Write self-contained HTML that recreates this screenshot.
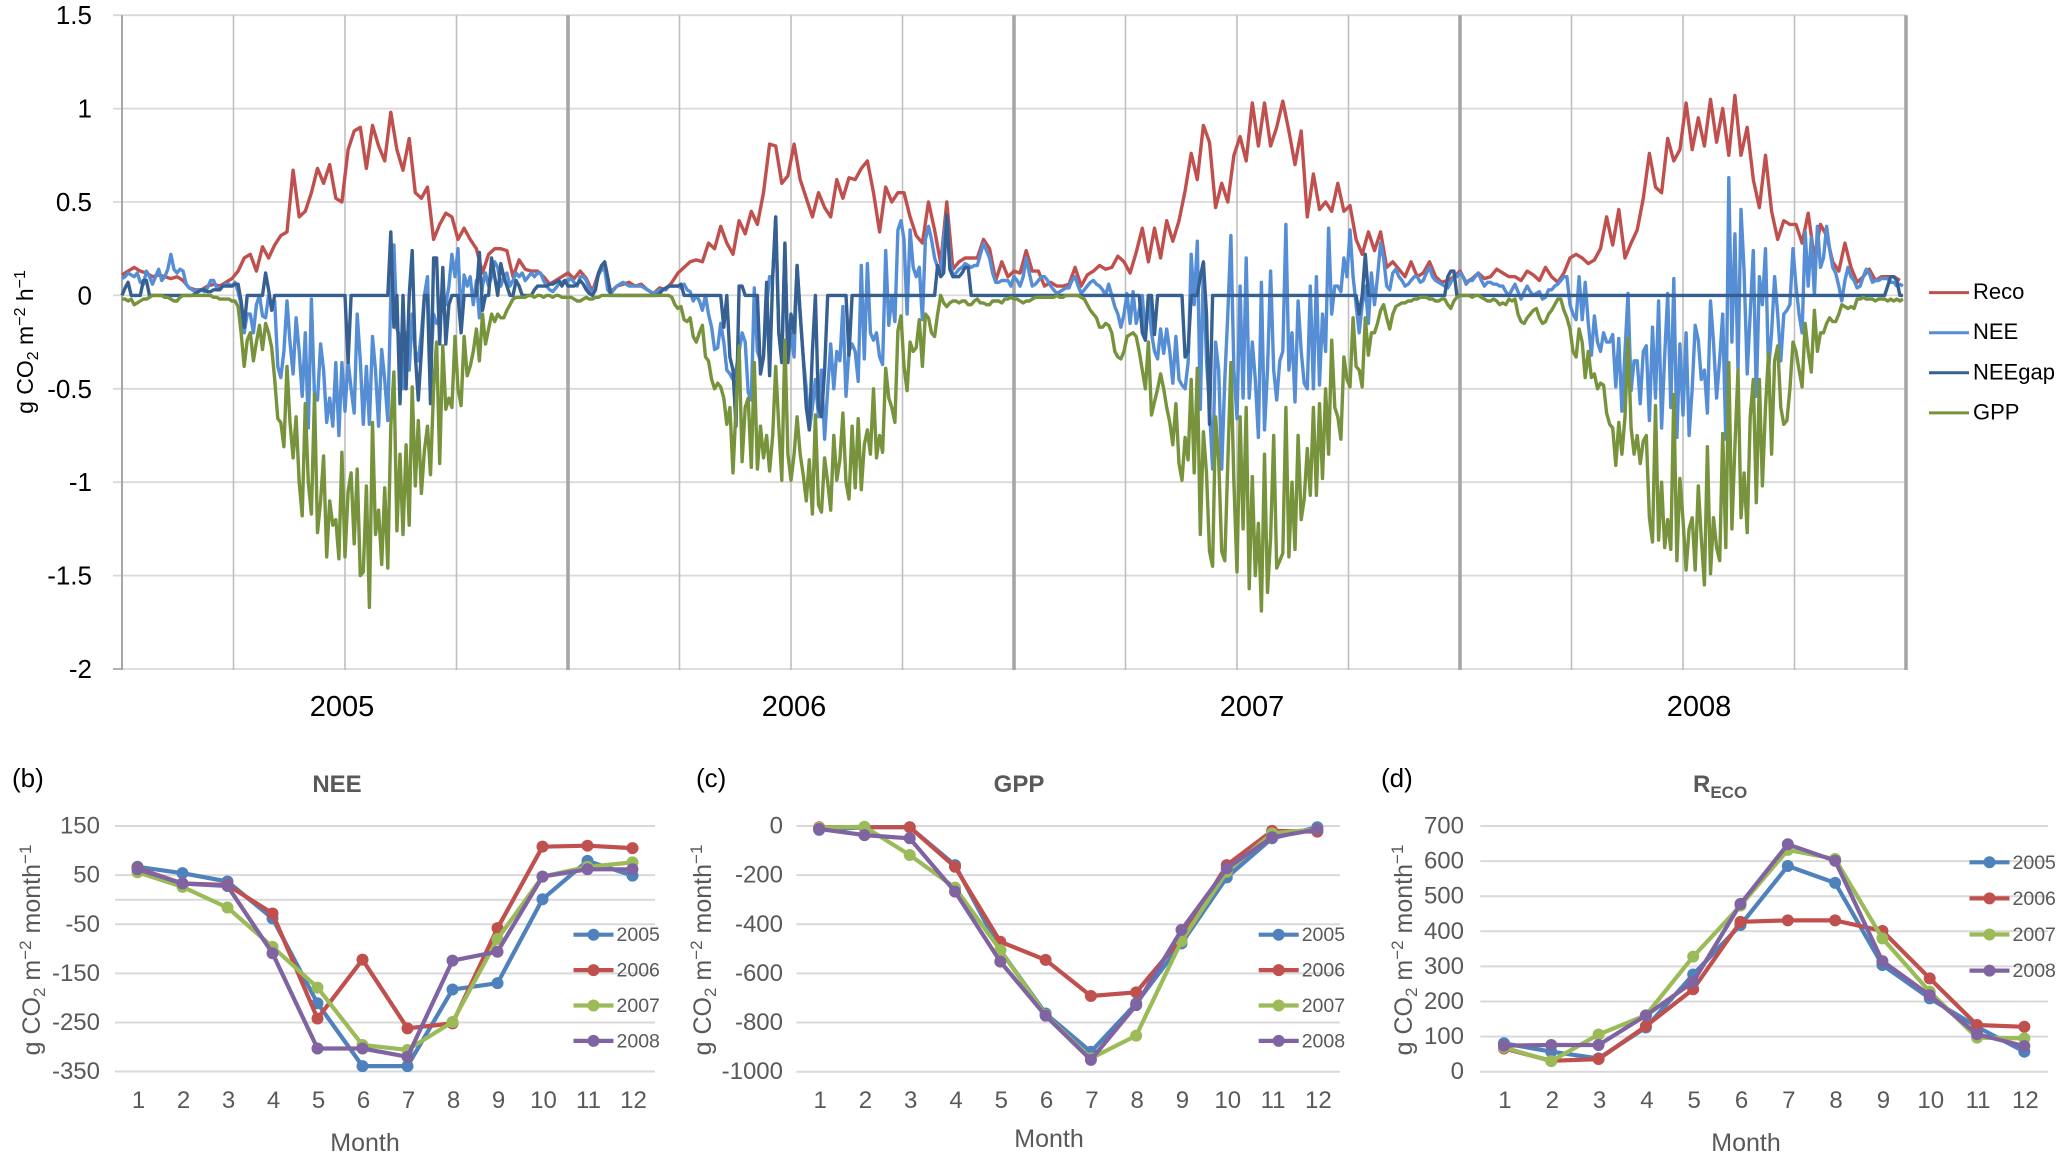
<!DOCTYPE html>
<html lang="en">
<head>
<meta charset="utf-8">
<title>Daily and monthly CO2 fluxes 2005-2008</title>
<style>
html,body{margin:0;padding:0;background:#fff;}
svg{display:block;font-family:"Liberation Sans",sans-serif;}
</style>
</head>
<body>
<svg id="chart" xmlns="http://www.w3.org/2000/svg" width="2066" height="1168" viewBox="0 0 2066 1168">
  <rect width="2066" height="1168" fill="#fff"/>
  <g id="main"></g>
  <g id="panelB"></g>
  <g id="panelC"></g>
  <g id="panelD"></g>

  <text transform="translate(33,342) rotate(-90)" text-anchor="middle" font-size="23" fill="#000">g CO<tspan font-size="16" dy="5">2</tspan><tspan dy="-5"> m</tspan><tspan font-size="16" dy="-8">−2</tspan><tspan dy="8"> h</tspan><tspan font-size="16" dy="-8">−1</tspan></text>
  <text x="342" y="716" text-anchor="middle" font-size="29" fill="#000">2005</text>
  <text x="794" y="716" text-anchor="middle" font-size="29" fill="#000">2006</text>
  <text x="1252" y="716" text-anchor="middle" font-size="29" fill="#000">2007</text>
  <text x="1699" y="716" text-anchor="middle" font-size="29" fill="#000">2008</text>

  <text x="12" y="787" font-size="26" fill="#000">(b)</text>
  <text x="696" y="787" font-size="26" fill="#000">(c)</text>
  <text x="1381" y="787" font-size="26" fill="#000">(d)</text>

  <text x="337" y="792" text-anchor="middle" font-size="24" font-weight="bold" fill="#595959">NEE</text>
  <text x="1019" y="792" text-anchor="middle" font-size="24" font-weight="bold" fill="#595959">GPP</text>
  <text x="1693" y="792" font-size="24" font-weight="bold" fill="#595959">R<tspan font-size="17" dy="6">ECO</tspan></text>

  <text x="365" y="1151" text-anchor="middle" font-size="25" fill="#595959">Month</text>
  <text x="1049" y="1147" text-anchor="middle" font-size="25" fill="#595959">Month</text>
  <text x="1746" y="1151" text-anchor="middle" font-size="25" fill="#595959">Month</text>

  <text transform="translate(40,950) rotate(-90)" text-anchor="middle" font-size="25" fill="#595959">g CO<tspan font-size="17" dy="5">2</tspan><tspan dy="-5"> m</tspan><tspan font-size="17" dy="-9">−2</tspan><tspan dy="9"> month</tspan><tspan font-size="17" dy="-9">−1</tspan></text>
  <text transform="translate(711,950) rotate(-90)" text-anchor="middle" font-size="25" fill="#595959">g CO<tspan font-size="17" dy="5">2</tspan><tspan dy="-5"> m</tspan><tspan font-size="17" dy="-9">−2</tspan><tspan dy="9"> month</tspan><tspan font-size="17" dy="-9">−1</tspan></text>
  <text transform="translate(1412,950) rotate(-90)" text-anchor="middle" font-size="25" fill="#595959">g CO<tspan font-size="17" dy="5">2</tspan><tspan dy="-5"> m</tspan><tspan font-size="17" dy="-9">−2</tspan><tspan dy="9"> month</tspan><tspan font-size="17" dy="-9">−1</tspan></text>
</svg>

<script>
// ---------- Daily chart data, g CO2 m-2 h-1 ----------
// Reco: one reading every five days.
const reco2005 = [
.11,.13,.15,.13,.12,.10,.11,.10,.09,.10,
.08,.04,.03,.03,.05,.06,.05,.07,.09,.13,
.20,.22,.13,.26,.20,.27,.32,.34,.67,.42,
.45,.55,.68,.60,.70,.52,.50,.78,.88,.90,
.68,.91,.80,.72,.98,.78,.67,.84,.55,.52,
.58,.30,.38,.44,.42,.30,.36,.30,.25,.12,
.22,.25,.25,.24,.10,.19,.14,.13,.13,.10,
.06,.08,.10];
const reco2006 = [
.12,.09,.13,.09,.02,.12,.15,.02,.05,.06,
.07,.05,.06,.03,.01,.04,.03,.07,.12,.15,
.18,.19,.18,.28,.25,.37,.28,.22,.40,.33,
.45,.38,.55,.81,.80,.60,.64,.81,.62,.52,
.42,.55,.47,.42,.62,.52,.63,.62,.68,.72,
.55,.34,.58,.50,.55,.55,.42,.32,.28,.50,
.35,.17,.50,.14,.18,.20,.20,.20,.30,.25,
.08,.18,.10];
const reco2007 = [
.13,.12,.24,.13,.13,.05,.07,.05,.05,.06,
.15,.05,.11,.13,.16,.14,.15,.21,.18,.12,
.23,.36,.18,.36,.20,.40,.29,.40,.56,.76,
.62,.91,.82,.47,.60,.50,.75,.85,.72,1.03,
.80,1.03,.80,.90,1.04,.88,.70,.88,.42,.65,
.46,.50,.45,.60,.45,.48,.30,.22,.34,.24,
.34,.15,.18,.14,.10,.18,.10,.12,.18,.10,
.07,.08,.10];
const reco2008 = [
.13,.07,.09,.12,.09,.10,.14,.12,.10,.10,
.08,.13,.11,.08,.15,.10,.07,.12,.20,.22,
.20,.17,.19,.25,.42,.27,.46,.20,.28,.35,
.52,.76,.58,.55,.84,.72,.78,1.03,.78,.95,
.80,1.05,.82,1.00,.75,1.07,.75,.90,.62,.47,
.75,.45,.30,.40,.38,.38,.28,.44,.20,.38,
.32,.18,.13,.28,.15,.07,.10,.14,.08,.10,
.10,.10,.08];

// NEE, NEEgap, GPP: one reading every 2.5 days (146 per year).
const nee2005 = [
.09,.1,.12,.11,.10,.12,.07,.06,.13,.1,
.06,.1,.14,.08,.10,.14,.22,.14,.12,.14,
.13,.06,.04,.03,.02,.03,.03,.02,.04,.08,
.08,.04,.04,.05,
.06,.06,.05,.07,.02,-.05,-.2,-.1,-.1,-.2,
-.05,0,-.11,-.12,0,-.05,-.03,-.38,-.44,-.3,
-.03,-.25,-.42,-.12,-.3,-.54,-.2,-.71,-.02,-.54,
-.56,-.26,-.4,-.68,-.55,-.7,-.36,-.75,-.36,-.62,
-.35,-.5,-.63,-.1,-.35,-.69,-.38,-.69,-.22,-.4,
-.7,-.29,-.45,-.67,0,.27,-.18,-.22,-.5,-.2,
-.4,-.1,-.3,-.35,-.2,0,.1,-.4,-.1,-.15,
-.13,-.05,-.05,.05,.22,.1,.25,-.15,.11,.05,
.1,-.05,.08,-.12,.05,
.12,.05,.1,.18,.15,.05,.1,.12,.05,.08,
.12,.1,.12,.08,.1,.12,.1,.12,.12,.08,
.05,.03,.02,.04,.06,.07,.08];
const nee2006 = [
.08,.09,.07,.05,.1,.1,.08,.03,.01,.05,
.11,.14,.14,.03,.01,.03,.05,.06,.07,.06,
.05,.05,.05,.05,.05,.04,.03,.02,.01,.02,
.03,.03,.03,
.05,.05,.05,.05,.04,.06,.03,.02,-.03,0,
-.03,-.08,0,-.1,-.17,-.29,-.28,-.15,-.25,-.4,
-.42,-.45,-.4,-.3,-.2,-.25,-.52,-.56,.04,-.3,
-.35,-.33,-.05,.1,.1,.42,-.2,-.35,.27,-.35,
-.2,-.33,.16,-.1,-.33,-.5,-.72,-.6,-.45,-.65,
-.4,-.77,-.5,-.26,-.5,-.3,-.35,-.06,-.54,-.3,
-.26,-.3,-.46,.16,-.34,.17,-.2,-.24,-.2,-.33,
-.37,.24,-.16,0,-.14,.35,.4,.3,-.1,.35,
.15,.1,.15,-.13,.3,
.37,.3,.2,.15,.13,.3,.43,.2,.1,.12,
.14,.15,.17,.16,.15,.16,.16,.22,.28,.24,
.2,.12,.07,.07,.08,.08,.08,.05];
const nee2007 = [
.1,.08,.05,.1,.2,.12,.05,.06,.08,.1,
.1,.08,.05,.03,.01,.02,.03,.04,.04,.08,
.1,.05,.01,.03,.05,.07,.08,.06,.05,.03,
0,.06,0,
-.06,-.1,-.17,-.1,.01,-.15,.02,-.15,-.08,0,
-.22,0,-.2,-.3,-.34,-.18,-.31,-.18,-.3,-.47,
-.22,-.45,-.48,-.5,-.36,.22,-.05,.29,-.61,.17,
-.35,-.6,-.93,-.25,-.4,-.93,-.45,-.1,.32,-.4,
-.66,.05,-.55,.2,-.55,-.25,-.45,-.76,.07,-.72,
-.4,.13,-.4,-.56,-.35,-.3,.38,-.4,-.2,-.57,
-.03,-.3,-.47,-.5,.05,-.5,.1,-.48,-.1,-.3,
.36,-.1,.05,.05,.02,.2,.1,.35,.1,-.05,
-.2,-.05,.05,-.15,.12,
-.05,.1,.28,.2,.05,.03,.12,.14,.1,.08,
.05,.06,.08,.1,.1,.07,.08,.12,.15,.1,
.08,.07,.06,.05,.04,.07,.1,.1];
const nee2008 = [
.12,.1,.06,.08,.08,.1,.12,.08,.05,.07,
.07,.06,.06,.05,.05,.02,0,.03,.06,.02,
-.02,.02,.05,.02,0,.01,.02,-.02,-.01,.03,
.03,.05,.06,.08,
.1,.1,-.05,-.1,-.13,.1,-.13,.07,-.15,-.32,
-.11,-.25,-.3,-.2,-.25,-.25,-.21,-.49,-.23,-.62,
-.3,.01,-.51,-.35,-.35,-.58,-.3,-.27,-.67,-.17,
-.55,-.03,-.71,-.32,.01,-.6,.09,-.76,-.26,-.64,
-.2,-.75,-.5,-.16,-.24,-.45,-.4,-.63,-.03,-.25,
-.55,-.34,-.1,-.77,.63,-.25,.33,-.4,.46,.13,
-.42,-.1,.24,-.54,.1,-.05,.25,-.4,-.2,.1,
-.1,-.35,-.1,-.08,-.05,.25,.05,-.1,-.2,.34,
.05,.31,0,.37,.15,
.2,.37,.25,.15,.12,.05,-.03,.08,.15,.1,
.08,.04,.05,.1,.14,.12,.07,.08,.08,.09,
.09,.09,.07,.07,.05,.06,.05];

const neeGap2005 = [
0,.04,.07,0,0,0,0,.08,.08,0,
0,0,0,0,0,0,0,0,0,0,
0,0,0,0,.01,.02,.03,.03,.02,.02,
.03,.03,.03,.05,
.05,.05,.05,.06,.06,-.03,-.17,0,0,0,
0,0,0,.12,.03,-.08,0,0,0,0,
0,0,0,0,0,0,0,0,0,0,
0,0,0,0,0,0,0,0,0,0,
-.36,0,0,0,0,0,0,0,0,0,
0,0,0,0,.34,-.17,0,-.58,0,-.5,
0,.24,-.32,-.56,-.3,0,0,-.58,.2,.2,
-.26,.15,-.26,-.05,0,0,0,-.2,0,0,
0,0,0,.23,-.08,
0,0,.2,.1,0,.17,.1,.05,0,0,
.08,.05,0,0,0,0,.03,.05,.05,.05,
.05,.06,.06,.07,.08,.05,.08];
const neeGap2006 = [
.05,.05,.05,.06,.08,.06,.03,.01,0,.03,
.12,.16,.18,.1,0,0,0,0,0,0,
0,0,0,0,0,0,0,0,0,0,
.01,.03,.04,
.05,.05,.05,.05,.06,0,0,0,0,0,
0,0,0,0,0,0,0,0,-.17,0,
-.33,-.4,-.7,.05,.05,0,0,0,0,0,
-.42,-.33,.07,-.43,.1,.42,-.2,-.36,.28,-.36,
-.1,-.2,.16,-.1,-.33,-.6,-.72,-.3,0,-.6,
-.65,-.4,0,0,0,0,0,0,0,-.32,
0,0,0,0,0,0,0,0,0,0,
0,0,0,0,0,0,0,0,0,0,
0,0,0,0,0,
0,0,0,.16,.1,.12,.43,.14,.1,.1,
.1,.12,.15,.15,0,0,0,0,0,0,
0,0,0,0,0,0,0,0];
const neeGap2007 = [
0,0,0,0,0,0,0,0,0,0,
0,0,0,0,0,0,0,0,0,0,
0,0,0,0,0,0,0,0,0,0,
0,0,0,
0,0,0,0,0,0,0,0,0,-.2,
-.24,0,0,-.21,0,0,0,0,0,0,
0,0,0,-.33,-.3,0,0,0,.1,.18,
-.1,-.69,0,0,0,0,0,0,0,0,
0,0,0,0,0,0,0,0,0,0,
0,0,0,0,0,0,0,0,0,0,
0,0,0,0,0,0,0,0,0,0,
0,0,0,0,0,0,0,0,0,0,
-.1,0,.22,0,0,
0,0,0,0,0,0,0,0,0,0,
0,0,0,0,0,0,0,0,0,0,
0,0,0,0,.1,.13,.13,0];
const neeGap2008 = [
0,0,0,0,0,0,0,0,0,0,
0,0,0,0,0,0,0,0,0,0,
0,0,0,0,0,0,0,0,0,0,
0,0,0,0,0,0,0,0,0,0,
0,0,0,0,0,0,0,0,0,0,
0,0,0,0,0,0,0,0,0,0,
0,0,0,0,0,0,0,0,0,0,
0,0,0,0,0,0,0,0,0,0,
0,0,0,0,0,0,0,0,0,0,
0,0,0,0,0,0,0,0,0,0,
0,0,0,0,0,0,0,0,0,0,
0,0,0,0,0,0,0,0,0,0,
0,0,0,0,0,0,0,0,0,0,
0,0,0,0,0,0,0,0,0,0,
.05,.1,.1,.08,0,0];

const gpp2005 = [
-.02,-.02,-.03,-.02,-.05,-.04,-.03,-.02,-.02,-.01,
0,0,0,0,-.01,-.01,-.02,-.03,-.03,-.01,
0,0,0,0,0,0,0,0,0,0,
-.01,-.01,-.02,-.02,
-.02,-.02,-.03,-.03,-.06,-.2,-.38,-.24,-.2,-.35,
-.25,-.16,-.29,-.15,-.2,-.28,-.45,-.66,-.68,-.81,
-.38,-.68,-.87,-.65,-1,-1.18,-.58,-1,-1.17,-.53,
-1.27,-1.1,-.86,-1.4,-1.1,-1.23,-1.2,-1.41,-.84,-1.4,
-1.05,-.95,-1.33,-.93,-1.5,-1.48,-1.02,-1.67,-.68,-1.28,
-1.15,-1.44,-1.03,-1.46,-.7,-.41,-1.26,-.85,-1.28,-.8,
-1.23,-.49,-1.02,-.67,-1.06,-.83,-.7,-.96,-.5,-.25,
-.9,-.27,-.61,-.55,-.6,-.22,-.5,-.59,-.22,-.43,
-.38,-.3,-.18,-.35,-.1,
-.26,-.18,-.10,-.14,-.10,-.12,-.12,-.08,-.05,-.02,
-.01,-.01,-.01,-.01,0,0,-.01,0,0,-.01,
0,0,-.01,0,0,-.01,-.01];
const gpp2006 = [
-.01,-.01,-.02,-.03,-.03,-.02,-.01,-.02,-.02,-.01,
-.01,0,0,0,0,0,0,0,0,0,
0,0,0,0,0,0,0,0,0,0,
0,0,0,
0,-.01,-.05,-.07,-.06,-.13,-.14,-.12,-.22,-.25,
-.2,-.16,-.33,-.35,-.45,-.5,-.47,-.49,-.55,-.69,
-.6,-.95,-.6,-.27,-.89,-.6,-.55,-.92,-.36,-.93,
-.7,-.87,-.75,-.94,-.75,-.38,-.7,-.99,-.24,-.85,
-.99,-.85,-.65,-.85,-.96,-1.1,-.88,-1.17,-.64,-1.12,
-1.16,-.87,-1,-1.15,-.75,-.99,-.88,-.63,-1,-1.09,
-.7,-1.03,-.66,-1.04,-.8,-.72,-.85,-.5,-.87,-.75,
-.84,-.39,-.55,-.6,-.68,-.19,-.11,-.38,-.51,-.25,
-.3,-.28,-.13,-.38,-.1,
-.12,-.2,-.22,-.1,0,-.04,-.06,-.04,-.03,-.03,
-.04,-.03,-.03,-.05,-.05,-.03,-.02,-.04,-.04,-.05,
-.05,-.03,-.03,-.03,-.04,-.02,-.02,-.01];
const gpp2007 = [
-.02,-.02,-.03,-.04,-.03,-.03,-.02,-.01,-.01,-.01,
-.01,-.01,-.01,-.01,0,-.01,-.01,0,0,0,
0,0,-.01,-.02,-.05,-.08,-.1,-.12,-.17,-.17,
-.15,-.16,-.2,
-.3,-.33,-.34,-.3,-.22,-.21,-.2,-.22,-.3,-.4,
-.5,-.25,-.64,-.57,-.5,-.42,-.5,-.6,-.68,-.8,
-.58,-.9,-.99,-.76,-.88,-.45,-.95,-.39,-1.28,-.73,
-.95,-1.37,-1.45,-.65,-.88,-1.37,-1.42,-.9,-.36,-1,
-1.48,-.65,-1.25,-.6,-1.57,-.97,-1.5,-1.22,-1.69,-.85,
-1.59,-1.3,-.75,-1.46,-1.42,-1.38,-.6,-1.4,-1,-1.36,
-.75,-1.2,-1.09,-.82,-1.07,-.6,-1.07,-.58,-.98,-.5,
-.85,-.24,-.6,-.65,-.77,-.33,-.45,-.49,-.12,-.38,
-.4,-.49,-.12,-.32,-.2,
-.2,-.15,-.08,-.05,-.12,-.18,-.1,-.06,-.05,-.04,
-.04,-.03,-.03,-.02,-.02,-.01,-.01,-.01,-.02,-.02,
-.03,-.03,-.02,-.02,-.05,-.07,-.03,-.01];
const gpp2008 = [
0,0,0,0,-.01,0,0,-.01,-.02,-.03,
-.03,-.02,-.03,-.05,-.04,-.05,-.02,-.03,-.02,-.1,
-.14,-.15,-.12,-.1,-.08,-.07,-.12,-.15,-.14,-.1,
-.08,-.05,-.02,-.02,
-.08,-.12,-.18,-.3,-.33,-.18,-.25,-.44,-.3,-.44,
-.42,-.5,-.47,-.48,-.63,-.69,-.71,-.91,-.68,-.85,
-.65,-.23,-.71,-.85,-.75,-.9,-.78,-.75,-1.19,-1.32,
-.59,-1.31,-1,-1.35,-1.2,-1.36,-.53,-1.42,-.98,-1.2,
-1.47,-1.25,-1.19,-1.47,-1.02,-1.3,-1.55,-.81,-1.49,-1.19,
-1.35,-1.42,-.74,-1.35,-.36,-1.25,-.81,-.4,-1.19,-.95,
-1.27,-.65,-.45,-1.11,-.45,-1.02,-.6,-.31,-.85,-.35,
-.27,-.6,-.69,-.67,-.5,-.25,-.3,-.4,-.49,-.15,
-.3,-.41,-.08,-.3,-.2,
-.2,-.15,-.12,-.14,-.14,-.1,-.05,-.06,-.07,-.06,
-.07,-.02,-.02,-.01,-.02,-.02,-.02,-.03,-.02,-.02,
-.02,-.03,-.02,-.03,-.02,-.03,-.02];

const mainTickLabels = ['1.5','1','0.5','0','-0.5','-1','-1.5','-2'];
const mainTickValues = [1.5,1,0.5,0,-0.5,-1,-1.5,-2];
const mainSeriesNames = ['Reco','NEE','NEEgap','GPP'];
const quarterCount = 16;

// ---------- Monthly chart data ----------
const months = [1,2,3,4,5,6,7,8,9,10,11,12];
const legendYears = ['2005','2006','2007','2008'];

const neeMonthly2005 = [67,54,37,-38,-211,-339,-339,-183,-170,1,79,49];
const neeMonthly2006 = [64,33,30,-28,-242,-122,-262,-252,-58,108,110,105];
const neeMonthly2007 = [56,26,-16,-96,-179,-296,-306,-249,-80,47,67,76];
const neeMonthly2008 = [62,33,28,-109,-303,-303,-320,-124,-106,47,62,62];
const neeTicks = [150,50,-50,-150,-250,-350];

const gppMonthly2005 = [-16,-5,-5,-159,-505,-763,-919,-722,-478,-209,-50,-5];
const gppMonthly2006 = [-5,-5,-5,-166,-471,-545,-692,-677,-457,-159,-20,-23];
const gppMonthly2007 = [-7,-3,-118,-251,-505,-769,-946,-853,-468,-186,-30,-14];
const gppMonthly2008 = [-12,-37,-50,-267,-552,-772,-952,-729,-423,-172,-46,-14];
const gppTicks = [0,-200,-400,-600,-800,-1000];

const recoMonthly2005 = [81,57,38,126,277,418,586,538,304,209,128,57];
const recoMonthly2006 = [66,31,36,130,235,427,431,431,401,266,133,128];
const recoMonthly2007 = [69,30,106,161,328,473,632,606,380,228,97,95];
const recoMonthly2008 = [74,76,76,160,256,478,648,601,315,218,107,73];
const recoTicks = [700,600,500,400,300,200,100,0];

// ---------- Helpers ----------
const NS = 'http://www.w3.org/2000/svg';
function make(parent, tag, attrs) {
  const el = document.createElementNS(NS, tag);
  for (const k in attrs) el.setAttribute(k, attrs[k]);
  parent.appendChild(el);
  return el;
}

// ---------- Main chart ----------
const main = document.getElementById('main');
const plotLeft = 122, plotRight = 1906, plotTop = 15.2, plotBottom = 669;
function xMain(fraction) { return plotLeft + fraction * (plotRight - plotLeft); }
function yMain(v) { return 295.4 - v * 186.8; }

mainTickValues.forEach(function (v, i) {
  const y = yMain(v);
  const grid = make(main, 'line', {x1: 113, x2: plotRight, y1: y, y2: y, stroke: '#d9d9d9', 'stroke-width': 1.8});
  
  
  const lab = make(main, 'text', {x: 92, y: y + 9, 'text-anchor': 'end', 'font-size': 26, fill: '#000'});
  
  
  lab.textContent = mainTickLabels[i];
});

for (let q = 0; q <= quarterCount; q++) {
  const x = xMain(q / quarterCount);
  const isYear = q % 4 === 0;
  const vline = make(main, 'line', {
    x1: x, x2: x, y1: plotTop, y2: plotBottom + 1,
    stroke: isYear ? '#a6a6a6' : '#bfbfbf',
    'stroke-width': (q === 0) ? 2 : (isYear ? 3.6 : 1.6)
  });
  
  
}
const tickBottom = make(main, 'line', {x1: 113, x2: plotLeft, y1: plotBottom, y2: plotBottom, stroke: '#a6a6a6', 'stroke-width': 1.6});



const recoAll = reco2005.concat(reco2006, reco2007, reco2008);
const neeAll = nee2005.concat(nee2006, nee2007, nee2008);
const gapAll = neeGap2005.concat(neeGap2006, neeGap2007, neeGap2008);
const gppAll = gpp2005.concat(gpp2006, gpp2007, gpp2008);
const mainSeries = [recoAll, neeAll, gapAll, gppAll];
const mainColors = ['#c0504d', '#558ed5', '#376092', '#77933c'];

mainSeries.forEach(function (vals, s) {
  const d = vals.map(function (v, k) {
    return (k ? 'L' : 'M') + xMain(k / vals.length).toFixed(1) + ' ' + yMain(v).toFixed(1);
  }).join('');
  const line = make(main, 'path', {d: d, fill: 'none', stroke: mainColors[s], 'stroke-width': 3.4, 'stroke-linejoin': 'round'});
  
  

  const ly = 292.6 + s * 40.1;
  const key = make(main, 'line', {x1: 1929, x2: 1969, y1: ly, y2: ly, stroke: mainColors[s], 'stroke-width': 3});
  
  
  const txt = make(main, 'text', {x: 1973, y: ly + 6.5, 'font-size': 22, fill: '#000'});
  
  
  txt.textContent = mainSeriesNames[s];
});

// ---------- Monthly panels ----------
const yearColors = ['#4f81bd', '#c0504d', '#9bbb59', '#8064a2'];

function drawPanel(cfg) {
  const g = document.getElementById(cfg.id);
  function y(v) { return cfg.yZero - v * cfg.yScale; }
  function x(m) { return cfg.left + (m - 0.5) * (cfg.right - cfg.left) / 12; }

  cfg.ticks.forEach(function (t) {
    const gl = make(g, 'line', {x1: cfg.left, x2: cfg.right, y1: y(t), y2: y(t), stroke: '#d9d9d9', 'stroke-width': 2});
    
    
    const tl = make(g, 'text', {x: cfg.labelRight, y: y(t) + 7.5, 'text-anchor': 'end', 'font-size': 24, fill: '#595959'});
    
    
    tl.textContent = String(t);
  });
  if (cfg.zeroLine) {
    const zl = make(g, 'line', {x1: cfg.left, x2: cfg.right, y1: y(0), y2: y(0), stroke: '#d9d9d9', 'stroke-width': 2});
    
    
  }
  months.forEach(function (m) {
    const ml = make(g, 'text', {x: x(m) + 1, y: cfg.monthBase, 'text-anchor': 'middle', 'font-size': 24, fill: '#595959'});
    
    
    ml.textContent = String(m);
  });
  cfg.series.forEach(function (vals, s) {
    const col = yearColors[s];
    const pl = make(g, 'polyline', {
      points: vals.map(function (v, i) { return x(months[i]).toFixed(1) + ',' + y(v).toFixed(1); }).join(' '),
      fill: 'none', stroke: col, 'stroke-width': 4.2, 'stroke-linejoin': 'round'
    });
    
    
    vals.forEach(function (v, i) {
      const c = make(g, 'circle', {cx: x(months[i]), cy: y(v), r: 6, fill: col});
      
      
    });
    const ly = cfg.legendTop + s * cfg.legendStep;
    const kl = make(g, 'line', {x1: cfg.legendX, x2: cfg.legendX + 40, y1: ly, y2: ly, stroke: col, 'stroke-width': 4.2});
    
    
    const kc = make(g, 'circle', {cx: cfg.legendX + 20, cy: ly, r: 6, fill: col});
    
    
    const kt = make(g, 'text', {x: cfg.legendX + 43, y: ly + 6.5, 'font-size': 19.5, fill: '#595959'});
    
    
    kt.textContent = legendYears[s];
  });
}

drawPanel({
  id: 'panelB', left: 115, right: 655, yZero: 899.7, yScale: 0.491, labelRight: 100,
  monthBase: 1108, legendX: 573.5, legendTop: 934.7, legendStep: 35.4, zeroLine: true,
  ticks: neeTicks, series: [neeMonthly2005, neeMonthly2006, neeMonthly2007, neeMonthly2008]
});
drawPanel({
  id: 'panelC', left: 796.5, right: 1340, yZero: 826, yScale: 0.2457, labelRight: 783,
  monthBase: 1108, legendX: 1258.7, legendTop: 934.7, legendStep: 35.4, zeroLine: false,
  ticks: gppTicks, series: [gppMonthly2005, gppMonthly2006, gppMonthly2007, gppMonthly2008]
});
drawPanel({
  id: 'panelD', left: 1480.3, right: 2048, yZero: 1071.7, yScale: 0.351, labelRight: 1464,
  monthBase: 1108, legendX: 1969.5, legendTop: 862.3, legendStep: 36.1, zeroLine: false,
  ticks: recoTicks, series: [recoMonthly2005, recoMonthly2006, recoMonthly2007, recoMonthly2008]
});
</script>
</body>
</html>
